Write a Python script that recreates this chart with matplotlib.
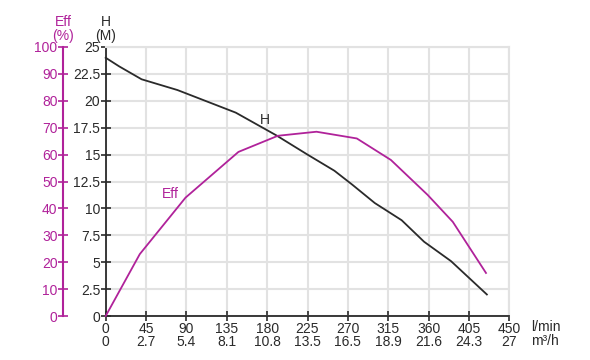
import matplotlib

matplotlib.use("Agg")
import matplotlib.pyplot as plt

plt.rcParams["font.family"] = ["Liberation Sans", "DejaVu Sans"]

# --- data ---
flow_lmin = [0, 45, 90, 135, 180, 225, 270, 315, 360, 405, 450]
flow_m3h = ["0", "2.7", "5.4", "8.1", "10.8", "13.5", "16.5", "18.9", "21.6", "24.3", "27"]

h_x = [0, 15, 40, 80, 145, 190, 225, 255, 275, 300, 330, 355, 385, 425]
h_y = [24, 23.2, 22, 21, 18.9, 16.8, 15, 13.5, 12.2, 10.5, 8.9, 6.9, 5.1, 2.0]

eff_x = [0, 38, 89, 148, 192, 235, 280, 318, 359, 387, 424]
eff_y = [0, 23, 44, 61, 67, 68.5, 66, 58, 45, 35, 16]

h_ticks = [0, 2.5, 5, 7.5, 10, 12.5, 15, 17.5, 20, 22.5, 25]
h_labels = ["0", "2.5", "5", "7.5", "10", "12.5", "15", "17.5", "20", "22.5", "25"]
eff_ticks = [0, 10, 20, 30, 40, 50, 60, 70, 80, 90, 100]

MAG = "#b0229a"
DARK = "#2a2a2a"
GRID = "#e2e2e2"
FS = 10

fig = plt.figure(figsize=(5.9, 3.6), dpi=100)
ax = fig.add_axes([105.7 / 590, 1 - 316 / 360, (509.3 - 105.7) / 590, (316 - 47) / 360])

ax.set_xlim(0, 450)
ax.set_ylim(0, 25)
ax.set_xticks(flow_lmin)
ax.set_xticklabels([f"{a}\n{b}" for a, b in zip(flow_lmin, flow_m3h)])
for lab in ax.get_xticklabels():
    lab.set_linespacing(0.95)
ax.set_yticks(h_ticks)
ax.set_yticklabels(h_labels)
ax.grid(True, color=GRID, lw=1.5)
ax.set_axisbelow(True)
for s in ("top", "right"):
    ax.spines[s].set_color(GRID)
    ax.spines[s].set_linewidth(1.5)
for s in ("left", "bottom"):
    ax.spines[s].set_color(DARK)
    ax.spines[s].set_linewidth(1.3)
ax.tick_params(direction="inout", length=7, width=1.2, color=DARK,
               labelsize=FS, labelcolor=DARK)
ax.tick_params(axis="y", pad=0.5)
ax.tick_params(axis="x", pad=0.5)

ax.plot(h_x, h_y, color=DARK, lw=1.3, clip_on=False, zorder=3)
ax.plot(eff_x, [v / 4 for v in eff_y], color=MAG, lw=1.3, clip_on=False, zorder=3)

# efficiency axis on the far left
ax2 = ax.twinx()
ax2.set_ylim(0, 100)
ax2.yaxis.set_ticks_position("left")
ax2.yaxis.set_label_position("left")
ax2.spines["left"].set_position(("outward", 42.7 * 0.72))
ax2.spines["left"].set_color(MAG)
ax2.spines["left"].set_linewidth(1.5)
for s in ("top", "right", "bottom"):
    ax2.spines[s].set_visible(False)
ax2.set_yticks(eff_ticks)
ax2.tick_params(direction="inout", length=7, width=1.2, color=MAG,
                labelsize=FS, labelcolor=MAG, pad=0.5)

# labels
fig.text(63 / 590, 1 - 29 / 360, "Eff\n(%)", color=MAG, fontsize=FS,
         ha="center", va="center", linespacing=0.95)
fig.text(105.7 / 590, 1 - 29 / 360, "H\n(M)", color=DARK, fontsize=FS,
         ha="center", va="center", linespacing=0.95)
fig.text(531 / 590, 1 - 334 / 360, "l/min\nm³/h", color=DARK, fontsize=FS,
         ha="left", va="center", linespacing=0.95)
ax.text(178, 18.2, "H", color=DARK, fontsize=FS, ha="center", va="center")
ax.text(72, 11.3, "Eff", color=MAG, fontsize=FS, ha="center", va="center")

fig.savefig("out.png", dpi=100)
